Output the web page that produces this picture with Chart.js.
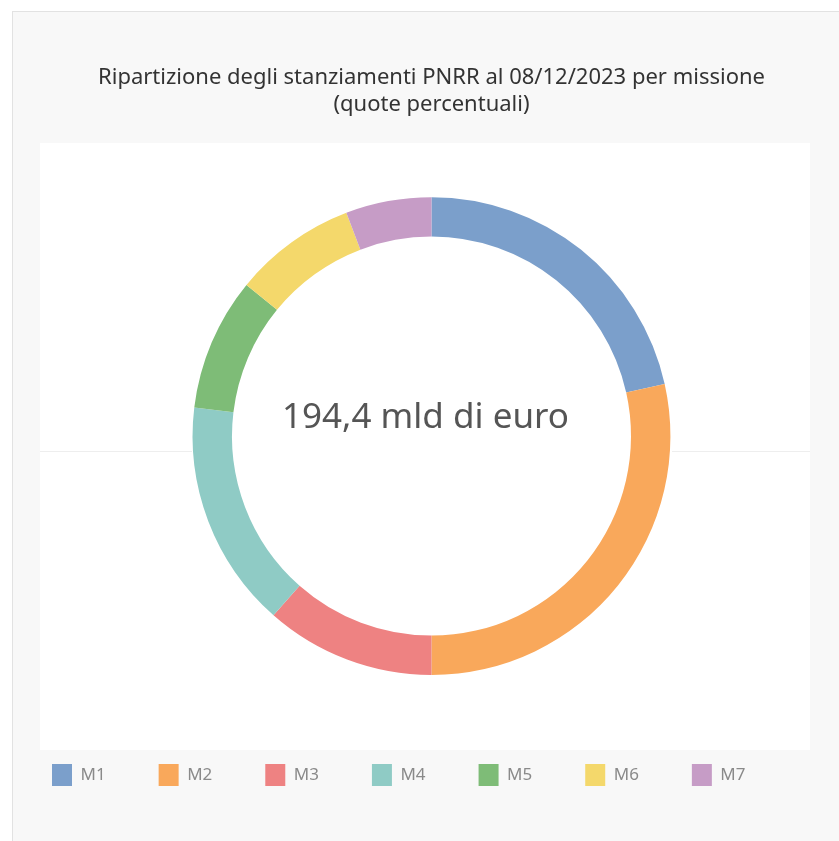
<!DOCTYPE html>
<html>
<head>
<meta charset="utf-8">
<script src="https://cdn.jsdelivr.net/npm/chart.js@4.4.1/dist/chart.umd.min.js"></script>
<style>
  body { margin: 0; background: #fff; overflow: hidden; width: 839px; height: 841px; }
  #frame { position: absolute; left: 12px; top: 11px; width: 840px; height: 840px; background: #f8f8f8; border: 1px solid #e2e2e2; }
  #panel { position: absolute; left: 40px; top: 143px; width: 770px; height: 607px; background: #fff; }
  .zero { position: absolute; top: 451px; height: 1px; background: #eeeeee; }
  #wrap { position: absolute; left: -1px; top: 0; width: 865px; height: 841px; }
</style>
</head>
<body>
<div id="frame"></div>
<div id="panel"></div>
<div class="zero" style="left:40px;width:152px"></div>
<div class="zero" style="left:672px;width:138px"></div>
<div id="wrap"><canvas id="missioni"></canvas></div>
<script>
const missioni = ["M1", "M2", "M3", "M4", "M5", "M6", "M7"];
// quote percentuali
const quote = [21.5, 28.5, 11.5, 15.4, 9.0, 8.3, 5.8];
const colori = ["#7b9fcb", "#f9a85b", "#ee8282", "#8fcbc5", "#7ebc77", "#f4d86b", "#c69cc6"];
const titolo = ["Ripartizione degli stanziamenti PNRR al 08/12/2023 per missione", "(quote percentuali)"];
const totale = "194,4 mld di euro";

// testo al centro della ciambella
const centerText = {
    id: "centerText",
    afterDatasetsDraw(chart) {
        const arc = chart.getDatasetMeta(0).data[0];
        if (!arc) return;
        const ctx = chart.ctx;
        ctx.save();
        ctx.font = "35px 'Noto Sans'";
        ctx.fillStyle = "#555555";
        ctx.textAlign = "center";
        ctx.textBaseline = "middle";
        ctx.fillText(totale, arc.x - 6, arc.y - 18);
        ctx.restore();
    },
};

new Chart(document.getElementById("missioni"), {
    type: "doughnut",
    data: {
        labels: missioni,
        datasets: [
            {
                label: "Quota %",
                data: quote,
                backgroundColor: colori,
                borderWidth: 0,
                hoverOffset: 0,
            },
        ],
    },
    options: {
        responsive: true,
        maintainAspectRatio: false,
        animation: false,
        cutout: "83.5%",
        radius: "86.9%",
        layout: { padding: { top: 0, bottom: 45, left: 0, right: 0 } },
        plugins: {
            title: {
                display: true,
                text: titolo,
                color: "#333333",
                font: { family: "'Noto Sans'", size: 22, weight: "normal", lineHeight: 1.23 },
                padding: { top: 64, bottom: 43 },
            },
            legend: {
                position: "bottom",
                align: "start",
                labels: {
                    boxWidth: 20,
                    boxHeight: 22,
                    padding: 53,
                    color: "#8a8a8a",
                    font: { family: "'Noto Sans'", size: 17 },
                },
            },
            tooltip: { enabled: false },
        },
    },
    plugins: [centerText],
});
</script>
</body>
</html>
